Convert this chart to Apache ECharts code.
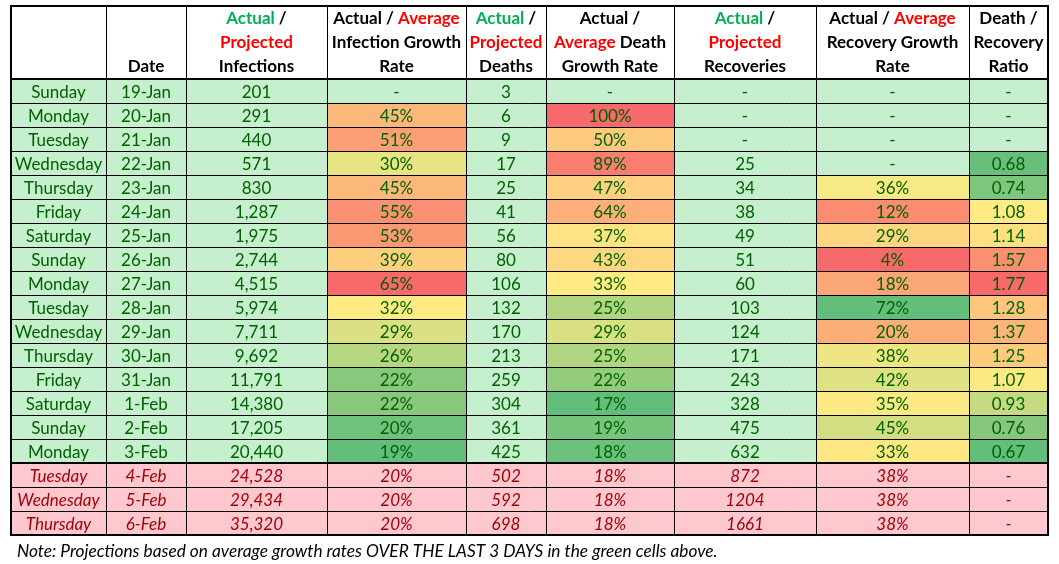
<!DOCTYPE html>
<html><head><meta charset="utf-8">
<script src="https://cdn.jsdelivr.net/npm/echarts@6/dist/echarts.min.js"></script>
<style>html,body{margin:0;padding:0;background:#fff}#c{width:1059px;height:564px}</style>
</head><body><div id="c"></div>
<script>
// ---------- data ----------
const days = ['Sunday','Monday','Tuesday','Wednesday','Thursday','Friday','Saturday','Sunday','Monday','Tuesday','Wednesday','Thursday','Friday','Saturday','Sunday','Monday','Tuesday','Wednesday','Thursday'];
const dates = ['19-Jan','20-Jan','21-Jan','22-Jan','23-Jan','24-Jan','25-Jan','26-Jan','27-Jan','28-Jan','29-Jan','30-Jan','31-Jan','1-Feb','2-Feb','3-Feb','4-Feb','5-Feb','6-Feb'];
const infections = [201,291,440,571,830,1287,1975,2744,4515,5974,7711,9692,11791,14380,17205,20440,24528,29434,35320];
const infectionGrowth = [null,45,51,30,45,55,53,39,65,32,29,26,22,22,20,19,20,20,20];
const deaths = [3,6,9,17,25,41,56,80,106,132,170,213,259,304,361,425,502,592,698];
const deathGrowth = [null,100,50,89,47,64,37,43,33,25,29,25,22,17,19,18,18,18,18];
const recoveries = [null,null,null,25,34,38,49,51,60,103,124,171,243,328,475,632,872,1204,1661];
const recoveryGrowth = [null,null,null,null,36,12,29,4,18,72,20,38,42,35,45,33,38,38,38];
const deathRecoveryRatio = [null,null,null,0.68,0.74,1.08,1.14,1.57,1.77,1.28,1.37,1.25,1.07,0.93,0.76,0.67,null,null,null];
const actualCount = 16; // rows up to 3-Feb are actual, rest projected
const headers = [
  '',
  'Date',
  '{g|Actual} /\n{r|Projected}\nInfections',
  'Actual / {r|Average}\nInfection Growth\nRate',
  '{g|Actual} /\n{r|Projected}\nDeaths',
  'Actual /\n{r|Average} Death\nGrowth Rate',
  '{g|Actual} /\n{r|Projected}\nRecoveries',
  'Actual / {r|Average}\nRecovery Growth\nRate',
  'Death /\nRecovery\nRatio'
];
const note = 'Note: Projections based on average growth rates OVER THE LAST 3 DAYS in the green cells above.';

// ---------- layout / style ----------
const FONT = 'Lato';
const HDR_FONT = 'bold 17px ' + FONT;
const colEdges = [11,106,186,327,466,546,674,816,969,1048];
const headerTop = 6, headerBottom = 79, rowH = 24;
const GREEN_BG = '#C6EFCE', GREEN_TX = '#006100', PINK_BG = '#FFC7CE', PINK_TX = '#9C0006';
const C_LOW = [0x63,0xBE,0x7B], C_MID = [0xFF,0xEB,0x84], C_HIGH = [0xF8,0x69,0x6B];

function median(a){const s=a.slice().sort((x,y)=>x-y);const n=s.length;return n%2?s[(n-1)/2]:(s[n/2-1]+s[n/2])/2;}
function lerp(a,b,t){return 'rgb('+a.map((v,i)=>Math.round(v+(b[i]-v)*t)).join(',')+')';}
function makeScale(arr, highGood){
  const vals = arr.slice(0,actualCount).filter(v=>v!=null);
  const mn = Math.min(...vals), mx = Math.max(...vals), md = median(vals);
  const lo = highGood ? C_HIGH : C_LOW, hi = highGood ? C_LOW : C_HIGH;
  return v => v<=md ? lerp(lo,C_MID,(v-mn)/(md-mn||1)) : lerp(C_MID,hi,(v-md)/(mx-md||1));
}
const fmtInt = v => v==null ? '-' : v.toLocaleString('en-US');
const fmtPlain = v => v==null ? '-' : String(v);
const fmtPct = v => v==null ? '-' : v + '%';
const fmtRatio = v => v==null ? '-' : v.toFixed(2);

const columns = [
  {vals: days, fmt: v=>v},
  {vals: dates, fmt: v=>v},
  {vals: infections, fmt: fmtInt},
  {vals: infectionGrowth, fmt: fmtPct, scale: makeScale(infectionGrowth,false)},
  {vals: deaths, fmt: fmtPlain},
  {vals: deathGrowth, fmt: fmtPct, scale: makeScale(deathGrowth,false)},
  {vals: recoveries, fmt: fmtPlain},
  {vals: recoveryGrowth, fmt: fmtPct, scale: makeScale(recoveryGrowth,true)},
  {vals: deathRecoveryRatio, fmt: fmtRatio, scale: makeScale(deathRecoveryRatio,false)}
];

const cells = [];
headers.forEach((h,c)=>cells.push({col:c,row:-1,text:h}));
for (let r=0;r<days.length;r++){
  const proj = r>=actualCount;
  columns.forEach((col,c)=>{
    const v = col.vals[r];
    let bg = proj ? PINK_BG : GREEN_BG;
    if (!proj && col.scale && v!=null) bg = col.scale(v);
    cells.push({col:c,row:r,text:col.fmt(v),bg,color:proj?PINK_TX:GREEN_TX,italic:proj});
  });
}
const nRows = days.length;
const tableBottom = headerBottom + nRows*rowH;

function rowTop(r){return r<0?headerTop:headerBottom+r*rowH;}
function rowBot(r){return r<0?headerBottom:headerBottom+(r+1)*rowH;}

// grid lines
const lines = [];
colEdges.forEach((x,i)=>lines.push({v:true,x,y0:headerTop,y1:tableBottom,w:(i===0||i===colEdges.length-1)?2:1}));
for (let r=0;r<=nRows;r++){
  const y = headerBottom + r*rowH;
  lines.push({v:false,y,x0:colEdges[0],x1:colEdges[colEdges.length-1],w:(r===0||r===nRows||r===actualCount)?2:1});
}
lines.push({v:false,y:headerTop,x0:colEdges[0],x1:colEdges[colEdges.length-1],w:2});

const hdrRich = {
  g:{fill:'#00B050',font:HDR_FONT,lineHeight:24},
  r:{fill:'#FF0000',font:HDR_FONT,lineHeight:24}
};

const chart = echarts.init(document.getElementById('c'),null,{renderer:'canvas'});
chart.setOption({
  animation:false,
  backgroundColor:'#fff',
  title:{text:note,left:12,top:538,textStyle:{fontFamily:FONT,fontSize:17.3,fontStyle:'italic',fontWeight:'normal',color:'#000'}},
  grid:{left:0,right:0,top:0,bottom:0},
  xAxis:{type:'value',min:0,max:1059,show:false},
  yAxis:{type:'value',min:0,max:564,inverse:true,show:false},
  series:[
    {
      type:'custom',silent:true,
      data:cells.map(c=>[c.col,c.row]),
      renderItem:function(params,api){
        const c = cells[params.dataIndex];
        const p0 = api.coord([colEdges[c.col],rowTop(c.row)]);
        const p1 = api.coord([colEdges[c.col+1],rowBot(c.row)]);
        const children = [];
        if (c.row>=0) children.push({type:'rect',shape:{x:p0[0],y:p0[1],width:p1[0]-p0[0],height:p1[1]-p0[1]},style:{fill:c.bg}});
        if (c.row<0){
          children.push({type:'text',style:{
            x:(p0[0]+p1[0])/2, y:p1[1], text:c.text, align:'center', verticalAlign:'bottom',
            fill:'#000', font:HDR_FONT, lineHeight:24, rich:hdrRich
          }});
        } else {
          children.push({type:'text',style:{
            x:(p0[0]+p1[0])/2, y:(p0[1]+p1[1])/2+2, text:c.text, align:'center', verticalAlign:'middle',
            fill:c.color, font:(c.italic?'italic ':'')+'17px '+FONT
          }});
        }
        return {type:'group',children};
      }
    },
    {
      type:'custom',silent:true,
      data:lines.map((l,i)=>[i,0]),
      renderItem:function(params,api){
        const l = lines[params.dataIndex];
        const off = l.w%2 ? 0.5 : 0;
        if (l.v){
          const a = api.coord([l.x,l.y0]), b = api.coord([l.x,l.y1]);
          return {type:'line',shape:{x1:a[0]+off,y1:a[1]-1,x2:b[0]+off,y2:b[1]+1},style:{stroke:'#000',lineWidth:l.w}};
        }
        const a = api.coord([l.x0,l.y]), b = api.coord([l.x1,l.y]);
        return {type:'line',shape:{x1:a[0]-1,y1:a[1]+off,x2:b[0]+1,y2:b[1]+off},style:{stroke:'#000',lineWidth:l.w}};
      }
    }
  ]
});
</script>
</body></html>
